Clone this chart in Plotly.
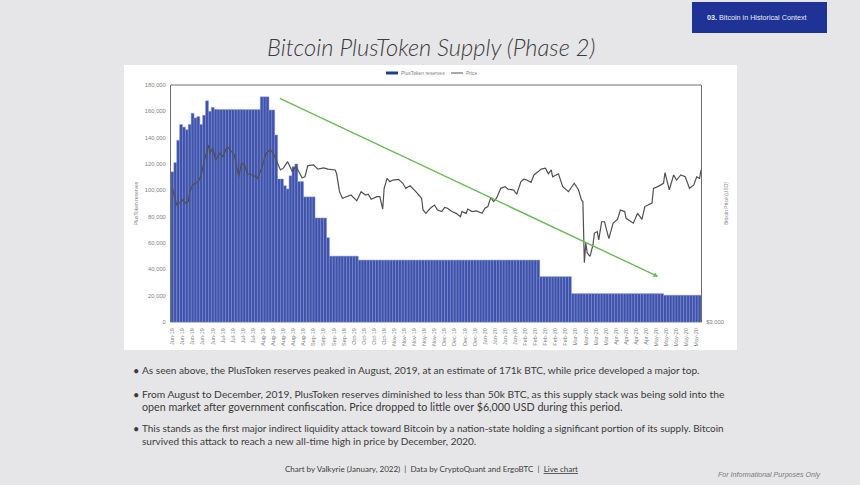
import plotly.graph_objects as go

# dias desde el 1 de junio de 2019, una barra cada dos dias
reserve_days = list(range(0, 368, 2))
reserves = [
    114000, 121000, 138000, 150000, 148000, 146000, 150000, 158500, 155000, 156000,
    150000, 157000, 168000, 160000, 163000, 161500, 161300, 161300, 161300, 161300,
    161300, 161300, 161300, 161300, 161300, 161300, 161300, 161300, 161300, 161300,
    161300, 171000, 171000, 171000, 161000, 161000, 142000, 108600, 108600, 103500,
    101000, 111000, 118000, 120000, 106600, 106600, 95000, 95000, 95000, 95000,
    79000, 79000, 79000, 79000, 64000, 50000, 50000, 50000, 50000, 50000,
    50000, 50000, 50000, 50000, 50000, 47000, 47000, 47000, 47000, 47000,
    47000, 47000, 47000, 47000, 47000, 47000, 47000, 47000, 47000, 47000,
    47000, 47000, 47000, 47000, 47000, 47000, 47000, 47000, 47000, 47000,
    47000, 47000, 47000, 47000, 47000, 47000, 47000, 47000, 47000, 47000,
    47000, 47000, 47000, 47000, 47000, 47000, 47000, 47000, 47000, 47000,
    47000, 47000, 47000, 47000, 47000, 47000, 47000, 47000, 47000, 47000,
    47000, 47000, 47000, 47000, 47000, 47000, 47000, 47000, 34400, 34400,
    34400, 34400, 34400, 34400, 34400, 34400, 34400, 34400, 34400, 21500,
    21500, 21500, 21500, 21500, 21500, 21500, 21500, 21500, 21500, 21500,
    21500, 21500, 21500, 21500, 21500, 21500, 21500, 21500, 21500, 21500,
    21500, 21500, 21500, 21500, 21500, 21500, 21500, 21500, 21500, 21500,
    21500, 20300, 20300, 20300, 20300, 20300, 20300, 20300, 20300, 20300,
    20300, 20300, 20300, 20300,
]

price_days = [
    0, 1, 3, 5, 7, 9, 11, 12, 14, 18, 20, 22, 25, 26, 28, 30, 33, 35, 38, 41,
    43, 46, 48, 50, 52, 56, 59, 62, 65, 68, 70, 72, 75, 77, 80, 83, 86, 90, 92, 94,
    98, 101, 105, 108, 113, 114, 116, 118, 121, 124, 128, 131, 134, 136, 138, 142, 144, 146, 147, 149,
    151, 153, 157, 160, 162, 165, 169, 173, 174, 176, 179, 182, 184, 187, 189, 191, 194, 197, 200, 201,
    204, 205, 208, 211, 215, 217, 219, 221, 223, 225, 228, 231, 233, 237, 239, 242, 244, 246, 249, 251,
    254, 256, 259, 261, 263, 264, 268, 271, 275, 279, 282, 284, 285, 286, 287, 288, 290, 292, 293, 295,
    296, 298, 300, 303, 306, 309, 311, 314, 315, 320, 323, 326, 328, 333, 334, 337, 341, 342, 345, 348,
    350, 353, 356, 359, 362, 364, 366, 367,
]
price_usd = [
    9110, 8750, 7930, 8070, 8270, 8060, 8160, 8860, 9370, 9630, 10180, 11370, 13050, 12200, 12720, 11530, 12200, 11850, 12880, 12360,
    12020, 10030, 11220, 11060, 10280, 10180, 9900, 10770, 12200, 12540, 12200, 11530, 10610, 10770, 11370, 10530, 10900, 9950, 10030, 11000,
    11060, 10690, 10800, 10690, 10610, 10280, 8860, 8390, 8500, 8620, 8210, 8860, 8620, 8670, 8320, 8500, 8500, 7670, 9110, 9900,
    9630, 9760, 9820, 9500, 9110, 9310, 8860, 8390, 7610, 7400, 7720, 7930, 7610, 7510, 7770, 7720, 7510, 7400, 7200, 7510,
    7400, 7670, 7510, 7550, 7400, 7720, 7830, 8430, 8160, 8390, 9110, 9240, 9050, 8980, 8670, 9630, 9830, 9760, 9570, 10180,
    10470, 10690, 10770, 10280, 10610, 10030, 10280, 9240, 8860, 9500, 8980, 8270, 8160, 4910, 5780, 5320, 5180, 5700, 6280, 6360,
    5940, 6900, 6900, 6000, 6820, 7040, 7610, 7510, 7100, 6820, 7400, 7040, 7830, 8060, 9110, 9240, 9500, 10380, 9000, 10180,
    9760, 10180, 10030, 9110, 9370, 10030, 9900, 10610,
]

tick_days = list(range(0, 365, 7))
tick_labels = (
    ["Jun-19"] * 5 + ["Jul-19"] * 4 + ["Aug-19"] * 5 + ["Sep-19"] * 4 + ["Oct-19"] * 4 + ["Nov-19"] * 5
    + ["Dec-19"] * 4 + ["Jan-20"] * 4 + ["Feb-20"] * 5 + ["Mar-20"] * 4 + ["Apr-20"] * 4 + ["May-20"] * 5
)
reserve_ticks = [0, 20000, 40000, 60000, 80000, 100000, 120000, 140000, 160000, 180000]

W, H = 860, 485
GREY = "#7f7f7f"
BODY = "#3a3a3a"
BLUE = "#3f51a8"


def px(x):
    return x / W


def py(y):
    return 1 - y / H


fig = go.Figure()

# barras de reservas, con borde claro para las rayas
fig.add_trace(go.Bar(
    x=reserve_days, y=reserves, width=2,
    name="PlusToken reserves",
    marker=dict(color=BLUE, line=dict(width=0.5, color="#7f90d6")),
))

# precio en eje logaritmico a la derecha
fig.add_trace(go.Scatter(
    x=price_days, y=price_usd, yaxis="y2", mode="lines",
    name="Price",
    line=dict(color="#505050", width=1.2),
))

fig.update_layout(
    width=W, height=H, autosize=False,
    margin=dict(l=0, r=0, t=0, b=0),
    paper_bgcolor="#e6e6e8",
    plot_bgcolor="rgba(0,0,0,0)",
    font=dict(family="Liberation Sans", color=GREY, size=5),
    showlegend=False,
    xaxis=dict(
        domain=[px(171), px(701)], range=[-1, 367], automargin=False,
        tickvals=tick_days, ticktext=tick_labels, tickangle=-90, ticklabelstandoff=3,
        tickfont=dict(size=5.5, color=GREY), showgrid=False, zeroline=False,
        showline=True, linecolor="#bfbfbf", linewidth=1, ticks="", mirror=False,
    ),
    yaxis=dict(
        domain=[py(322), py(85)], range=[0, 180000], automargin=False,
        tickvals=reserve_ticks, tickformat=",", tickfont=dict(size=5.8, color=GREY), ticklabelstandoff=3,
        title=dict(text="PlusToken reserves", font=dict(size=5, color=GREY), standoff=6),
        showgrid=False, zeroline=False, showline=True, linecolor="#6e6e6e", linewidth=1,
        ticks="",
    ),
    yaxis2=dict(
        overlaying="y", side="right", type="log", automargin=False,
        range=[3.4771, 4.3324],
        tickvals=[3000], ticktext=["$3,000"], tickfont=dict(size=5.8, color=GREY), ticklabelstandoff=3,
        title=dict(text="Bitcoin Price (USD)", font=dict(size=5, color=GREY), standoff=1),
        showgrid=False, zeroline=False, showline=True, linecolor="#6e6e6e", linewidth=1,
        ticks="",
    ),
)

# tarjeta blanca, cabecera azul y marco superior
fig.add_shape(type="rect", xref="paper", yref="paper", layer="below",
              x0=px(124), x1=px(737), y0=py(350), y1=py(65),
              fillcolor="white", line=dict(width=0))
fig.add_shape(type="rect", xref="paper", yref="paper", layer="below",
              x0=px(692), x1=px(827), y0=py(33), y1=py(2),
              fillcolor="#1f3296", line=dict(width=0))
fig.add_shape(type="line", xref="paper", yref="paper", layer="above",
              x0=px(171), x1=px(701), y0=py(85), y1=py(85),
              line=dict(color="#6e6e6e", width=1))

# leyenda hecha a mano para que las muestras sean finas
fig.add_shape(type="rect", xref="paper", yref="paper",
              x0=px(386), x1=px(398), y0=py(74.5), y1=py(71.5),
              fillcolor="#1f3a93", line=dict(width=0))
fig.add_shape(type="line", xref="paper", yref="paper",
              x0=px(451), x1=px(463), y0=py(73), y1=py(73),
              line=dict(color="#505050", width=1))

# flecha verde
fig.add_annotation(
    x=337.4, y=34400, ax=73.5, ay=170400, xref="x", yref="y", axref="x", ayref="y",
    text="", showarrow=True, arrowhead=2, arrowsize=0.7, arrowwidth=1.4, arrowcolor="#6cb858",
)


def add_text(x, y, text, size, color=BODY, anchor="left", family="Lato", **font_args):
    fig.add_annotation(
        x=px(x), y=py(y), xref="paper", yref="paper", text=text, showarrow=False,
        xanchor=anchor, yanchor="middle", align=anchor,
        font=dict(family=family, size=size, color=color, **font_args),
    )


add_text(399, 73, "PlusToken reserves", 5, GREY, family="Liberation Sans")
add_text(464, 73, "Price", 5, GREY, family="Liberation Sans")

add_text(431, 47, "Bitcoin PlusToken Supply (Phase 2)", 23.7, "#3c3c3c", "center", style="italic", weight=300)
add_text(705, 18, "<b>03.</b> Bitcoin in Historical Context", 7.2, "#e8ebf7", "left", family="Liberation Sans")

bullet_rows = [370, 394, 428]
text_rows = [
    (370, 10.1, "As seen above, the PlusToken reserves peaked in August, 2019, at an estimate of 171k BTC, while price developed a major top."),
    (394, 10.3, "From August to December, 2019, PlusToken reserves diminished to less than 50k BTC, as this supply stack was being sold into the"),
    (406, 10.7, "open market after government confiscation. Price dropped to little over $6,000 USD during this period."),
    (428, 9.95, "This stands as the first major indirect liquidity attack toward Bitcoin by a nation-state holding a significant portion of its supply. Bitcoin"),
    (441, 10.0, "survived this attack to reach a new all-time high in price by December, 2020."),
]
for row in bullet_rows:
    add_text(131, row, "•", 11)
for row, size, line in text_rows:
    add_text(140, row, line, size)

add_text(431, 469, "Chart by Valkyrie (January, 2022)  |  Data by CryptoQuant and ErgoBTC  |  <u>Live chart</u>", 8, "#3c3c3c", "center")
add_text(823, 475, "For Informational Purposes Only", 7.1, "#7a7a7a", "right", family="Liberation Sans", style="italic")

fig.write_html(
    "out.html",
    config=dict(displayModeBar=False),
    post_script="document.body.style.margin='0';document.body.style.background='#e6e6e8';",
)
